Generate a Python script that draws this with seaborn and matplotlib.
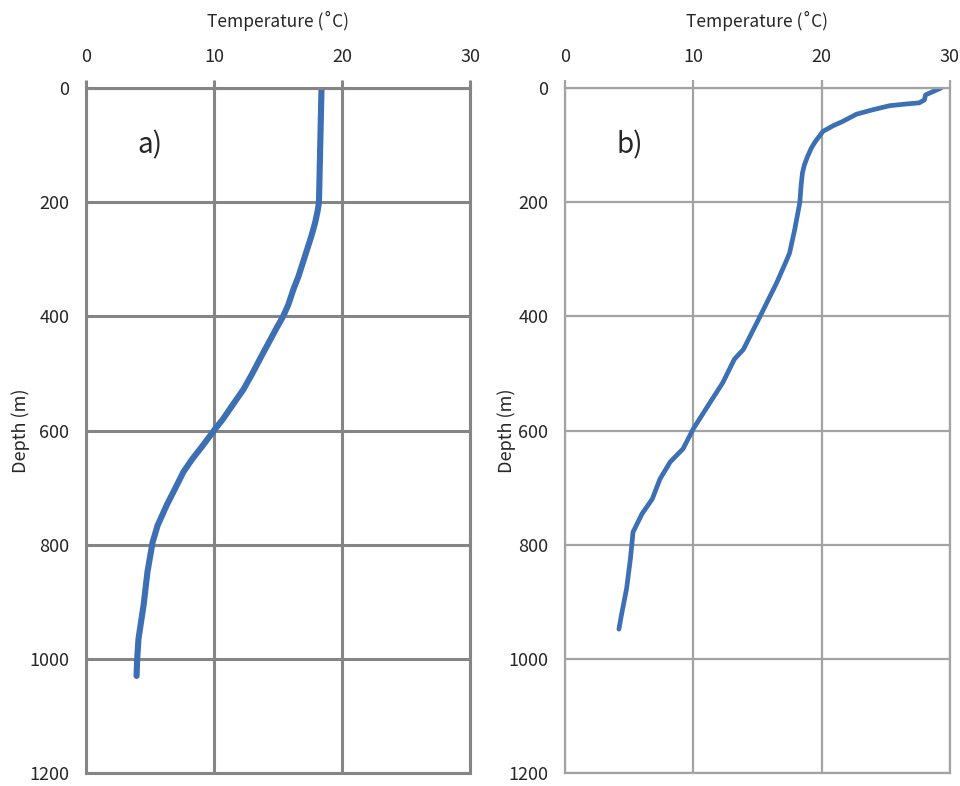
import matplotlib
matplotlib.use("Agg")
import matplotlib.pyplot as plt
import numpy as np
import pandas as pd
import seaborn as sns

# profile a) -- temperature (degC) vs depth (m)
TEMP_A = [18.4, 18.35, 18.3, 18.25, 18.2, 18.1, 17.9, 17.6, 17.1, 16.6, 16.2,
          15.8, 15.4, 14.9, 14.3, 13.7, 13.0, 12.3, 11.4, 10.7, 10.0, 9.1,
          8.3, 7.6, 7.0, 6.3, 5.6, 5.2, 4.8, 4.5, 4.1, 4.0, 3.95]
DEPTH_A = [0, 50, 100, 150, 200, 215, 236, 260, 295, 330, 353,
           380, 400, 420, 445, 470, 500, 528, 557, 580, 600, 627,
           650, 673, 700, 731, 766, 796, 848, 906, 965, 1000, 1030]

# profile b)
TEMP_B = [29.3, 28.1, 28.0, 27.6, 26.6, 25.3, 24.0, 22.7, 21.6, 20.9, 20.1,
          19.8, 19.5, 19.2, 18.9, 18.65, 18.5, 18.4, 18.3, 17.9, 17.5, 17.3,
          16.5, 15.2, 13.9, 13.2, 12.3, 11.3, 10.0, 9.2, 8.2, 7.4, 6.8, 6.0,
          5.3, 5.1, 4.8, 4.4, 4.2]
DEPTH_B = [0, 12, 21, 26, 28, 31, 38, 46, 59, 66, 76,
           85, 94, 105, 120, 135, 149, 170, 200, 248, 289, 300,
           341, 400, 458, 475, 516, 551, 597, 632, 655, 685, 720, 746,
           778, 824, 877, 923, 948]

PANELS = ["a)", "b)"]
X_TICKS = [0, 10, 20, 30]
Y_TICKS = [0, 200, 400, 600, 800, 1000, 1200]

LINE_COLOR = "#3c6fb4"

sns.set_style("white")
plt.rcParams["font.family"] = ["Noto Sans CJK JP", "DejaVu Sans"]

fig = plt.figure(figsize=(9.6, 7.86), dpi=100)
ax_a = fig.add_axes([86 / 960, 1 - 773 / 786, 384 / 960, 685 / 786])
ax_b = fig.add_axes([565 / 960, 1 - 773 / 786, 385 / 960, 685 / 786])

profiles = [
    (ax_a, pd.DataFrame({"temp": TEMP_A, "depth": DEPTH_A}), 4.4, "#858585", 2.2, -0.145),
    (ax_b, pd.DataFrame({"temp": TEMP_B, "depth": DEPTH_B}), 3.4, "#a3a3a3", 1.6, -0.128),
]

for (ax, df, lw, gcol, glw, ylab_x), tag in zip(profiles, PANELS):
    sns.lineplot(data=df, x="temp", y="depth", ax=ax, sort=False,
                 estimator=None, color=LINE_COLOR, linewidth=lw,
                 solid_capstyle="round", solid_joinstyle="round")
    ax.set_xlim(0, 30)
    ax.set_ylim(1200, 0)
    ax.set_xticks(X_TICKS)
    ax.set_yticks(Y_TICKS)
    ax.xaxis.tick_top()
    ax.xaxis.set_label_position("top")
    ax.set_xlabel("Temperature (˚C)", fontsize=12.5, labelpad=15)
    ax.set_ylabel("Depth (m)", fontsize=13)
    ax.yaxis.set_label_coords(ylab_x, 0.5)
    ax.tick_params(axis="both", labelsize=13, length=6, width=glw,
                   color=gcol, direction="out")
    ax.tick_params(axis="x", pad=10)
    ax.tick_params(axis="y", pad=6)
    ax.grid(True, color=gcol, linewidth=glw)
    for sp in ax.spines.values():
        sp.set_color(gcol)
        sp.set_linewidth(glw)
    ax.text(4.0, 100, tag, fontsize=20, va="center", ha="left")

fig.savefig("out.png", dpi=100)
